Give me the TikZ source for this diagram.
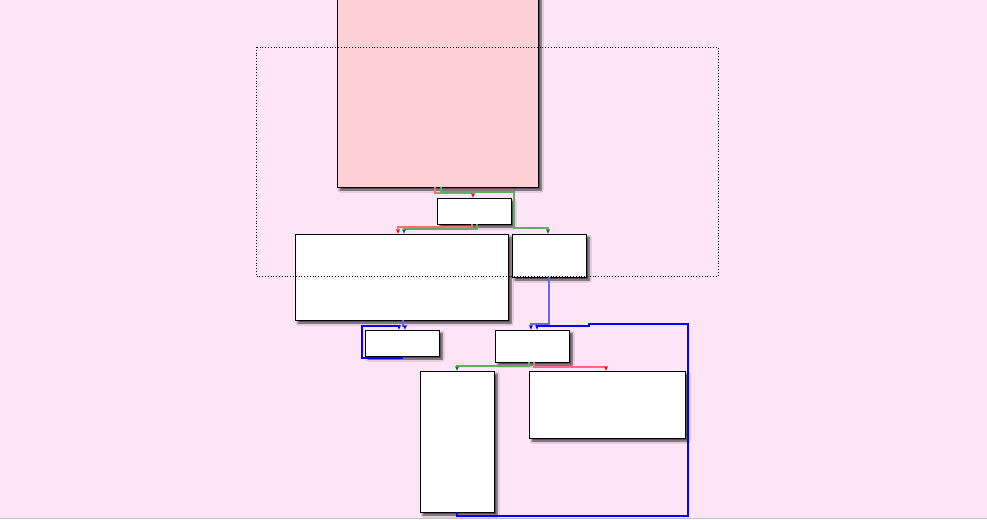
\documentclass[tikz,border=0pt]{standalone}
\usetikzlibrary{shadows,shadows.blur,arrows.meta}
\definecolor{bgpink}{RGB}{253,228,247}
\definecolor{boxpink}{RGB}{255,208,212}
\definecolor{redl}{RGB}{250,110,120}
\definecolor{greenl}{RGB}{100,170,100}
\definecolor{bluel}{RGB}{100,100,255}
\begin{document}
\begin{tikzpicture}[x=1pt,y=-1pt,
  box/.style={draw=black,line width=0.8pt,fill=white,blur shadow={shadow xshift=3pt,shadow yshift=-3pt,shadow opacity=75,shadow blur radius=2pt,shadow blur steps=6}},
  redc/.style={draw=redl,line width=1.3pt},
  greenc/.style={draw=greenl,line width=1.3pt},
  bluethin/.style={draw=bluel,line width=1.2pt},
  bluethick/.style={draw=blue,line width=1.6pt},
  rtip/.style={-{Stealth[length=4.5pt,width=4pt,color=red]}},
  gtip/.style={-{Stealth[length=4.5pt,width=4pt,color=green!45!black]}},
  btip/.style={-{Stealth[length=4.5pt,width=4pt,color=blue]}}]
\fill[bgpink] (0,0) rectangle (987,519);
\useasboundingbox (0,0) rectangle (987,519);
\draw[black!25,line width=1pt] (0,518) -- (987,518);
% boxes
\path[box,fill=boxpink] (337,-5) rectangle (538,187) coordinate (pk);
\node[box,inner sep=0,minimum width=74pt,minimum height=26pt] (A) at (474,211) {};
\node[box,inner sep=0,minimum width=213pt,minimum height=86pt] (B) at (401.5,277) {};
\node[box,inner sep=0,minimum width=74pt,minimum height=43pt] (C) at (549,255.5) {};
\node[box,inner sep=0,minimum width=74pt,minimum height=26pt] (D) at (402,343) {};
\node[box,inner sep=0,minimum width=74pt,minimum height=32pt] (E) at (532,346) {};
\node[box,inner sep=0,minimum width=74pt,minimum height=141pt] (F) at (457,441.5) {};
\node[box,inner sep=0,minimum width=156pt,minimum height=67pt] (G) at (607,404.5) {};
\coordinate (P1) at (435,187);
\coordinate (P2) at (441,187);
% dotted frame
\draw[dotted,line width=0.8pt] (256,47) rectangle (718,276);
% connectors
\draw[redc,rtip] (P1) -- (435,193) -- (473,193) -- (A.north -| 473,0);
\draw[greenc,gtip] (P2) -- (441,192) -- (514,192) -- (514,228) -- (548,228) -- (C.north -| 548,0);
\draw[redc,rtip] (A.south -| 472,0) -- (472,227) -- (398,227) -- (B.north -| 398,0);
\draw[greenc,gtip] (A.south -| 477,0) -- (477,229) -- (404,229) -- (B.north -| 404,0);
\draw[bluethin,btip] (C.south) -- (549,324) -- (531,324) -- (E.north -| 531,0);
\draw[bluethin,btip] (B.south -| 403,0) -- (403,326) -- (405,326) -- (D.north -| 405,0);
\draw[bluethick,btip] (D.south) -- (402,358) -- (362,358) -- (362,326) -- (399,326) -- (D.north -| 399,0);
\draw[bluethick,btip] (F.south) -- (457,516) -- (688,516) -- (688,324) -- (589,324) -- (589,326) -- (537,326) -- (E.north -| 537,0);
\draw[greenc,gtip] (E.south -| 529,0) -- (529,366) -- (457,366) -- (F.north);
\draw[redc,rtip] (E.south -| 534,0) -- (534,367) -- (606,367) -- (G.north -| 606,0);
\end{tikzpicture}
\end{document}
